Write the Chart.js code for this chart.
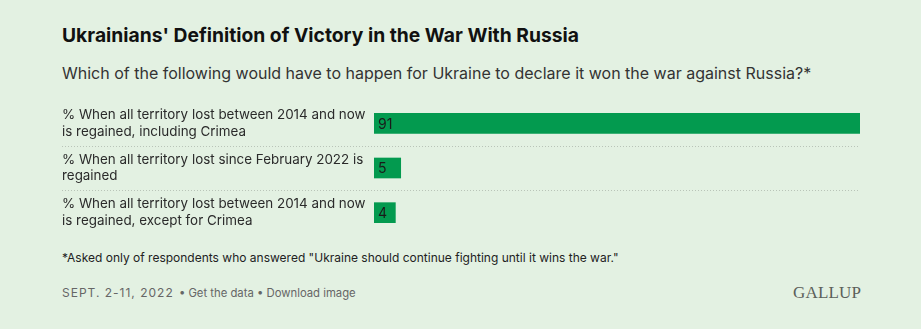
<!DOCTYPE html>
<html lang="en">
  <head>
    <meta charset="UTF-8" />
    <title>Ukrainians' Definition of Victory in the War With Russia</title>
    <style>
      html, body { margin: 0; padding: 0; }
      body {
        width: 921px;
        height: 329px;
        background: #e3f1e2;
        font-family: Inter, "Noto Sans", sans-serif;
        color: #222;
        position: relative;
        overflow: hidden;
      }
      h1 {
        position: absolute; left: 62px; top: 23px; margin: 0;
        font-size: 19.3px; font-weight: 700; color: #111;
      }
      .sub {
        position: absolute; left: 62px; top: 63px; margin: 0;
        font-size: 16px; color: #333;
      }
      .chart-box {
        position: absolute; left: 62px; top: 101px; width: 800px; height: 134px;
      }
      .note {
        position: absolute; left: 62px; top: 250px; margin: 0;
        font-size: 12px; color: #222;
      }
      .foot {
        position: absolute; left: 62px; top: 285px; margin: 0;
        font-size: 11.3px; color: #666;
      }
      .foot .date { font-size: 12px; letter-spacing: 1px; margin-right: 2px; }
      .logo {
        position: absolute; left: 793px; top: 283px;
        font-family: "Liberation Serif", serif; font-size: 17px; color: #5b605a;
        letter-spacing: 0.2px;
      }
    </style>
  </head>
  <body>
    <h1>Ukrainians' Definition of Victory in the War With Russia</h1>
    <p class="sub">Which of the following would have to happen for Ukraine to declare it won the war against Russia?*</p>
    <div class="chart-box"><canvas id="myChart"></canvas></div>
    <p class="note">*Asked only of respondents who answered "Ukraine should continue fighting until it wins the war."</p>
    <p class="foot"><span class="date">SEPT. 2-11, 2022</span> &bull; Get the data &bull; Download image</p>
    <div class="logo">GALLUP</div>

    <script src="https://cdn.jsdelivr.net/npm/chart.js@4.4.1/dist/chart.umd.min.js"></script>
    <script>
      var categories = [
        ["% When all territory lost between 2014 and now", "is regained, including Crimea"],
        ["% When all territory lost since February 2022 is", "regained"],
        ["% When all territory lost between 2014 and now", "is regained, except for Crimea"],
      ];
      var values = [91, 5, 4];

      // dotted lines between the rows, full width
      var rowSeparators = {
        id: "rowSeparators",
        beforeDatasetsDraw: function (chart) {
          var ctx = chart.ctx;
          var y = chart.scales.y;
          ctx.save();
          ctx.strokeStyle = "#b9c4b8";
          ctx.lineWidth = 1;
          ctx.setLineDash([1, 2]);
          for (let i = 0; i < values.length - 1; i++) {
            var py = Math.round((y.getPixelForValue(i) + y.getPixelForValue(i + 1)) / 2) + 0.5;
            ctx.beginPath();
            ctx.moveTo(0, py);
            ctx.lineTo(chart.chartArea.right, py);
            ctx.stroke();
          }
          ctx.restore();
        },
      };

      // value label inside each bar
      var barValues = {
        id: "barValues",
        afterDatasetsDraw: function (chart) {
          var ctx = chart.ctx;
          var meta = chart.getDatasetMeta(0);
          ctx.save();
          ctx.font = "14px Inter, sans-serif";
          ctx.fillStyle = "#1a1a1a";
          ctx.textBaseline = "middle";
          meta.data.forEach(function (bar, i) {
            ctx.fillText(values[i], bar.base + 4, bar.y + 1);
          });
          ctx.restore();
        },
      };

      var ctx = document.getElementById("myChart").getContext("2d");
      var myBarChart = new Chart(ctx, {
        type: "bar",
        data: {
          labels: categories,
          datasets: [
            {
              data: values,
              backgroundColor: "#039a4f",
              barThickness: 20,
            },
          ],
        },
        options: {
          indexAxis: "y",
          responsive: true,
          maintainAspectRatio: false,
          animation: false,
          layout: { padding: { top: 0, bottom: 0, left: 0, right: 2 } },
          plugins: {
            legend: { display: false },
            tooltip: { enabled: false },
          },
          scales: {
            x: {
              min: 0,
              max: 91,
              display: false,
            },
            y: {
              grid: { display: false },
              border: { display: false },
              afterFit: function (scale) {
                scale.width = 312;
                scale.paddingTop = 0;
                scale.paddingBottom = 0;
              },
              ticks: {
                crossAlign: "far",
                padding: 0,
                color: "#2a2a2a",
                font: { family: "Inter", size: 13.4, lineHeight: 1.25 },
              },
            },
          },
        },
        plugins: [rowSeparators, barValues],
      });
    </script>
  </body>
</html>
